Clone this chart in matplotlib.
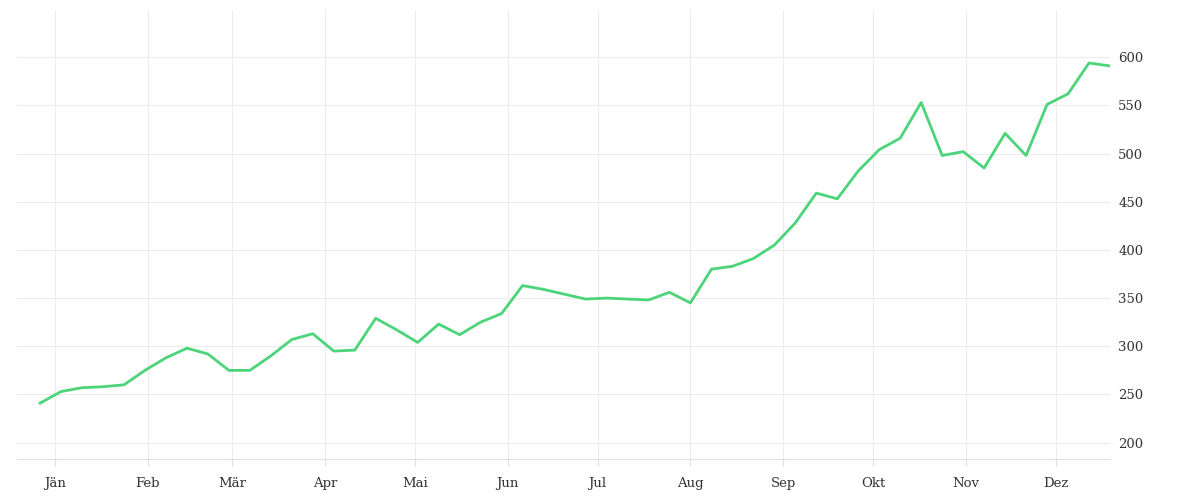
import numpy as np
import matplotlib.pyplot as plt

# weekly values, first point 5 days before Jan 1
start_day = -5
values = [241, 253, 257, 258, 260, 275, 288, 298, 292, 275, 275, 290, 307, 313, 295, 296,
          329, 317, 304, 323, 312, 325, 334, 363, 359, 354, 349, 350, 349, 348, 356, 345,
          380, 383, 391, 405, 428, 459, 453, 482, 504, 516, 553, 498, 502, 485, 521, 498,
          551, 562, 594, 591]
month_labels = ["Jän", "Feb", "Mär", "Apr", "Mai", "Jun", "Jul", "Aug", "Sep", "Okt", "Nov", "Dez"]
month_days = [31, 28, 31, 30, 31, 30, 31, 31, 30, 31, 30, 31]
y_ticks = [200, 250, 300, 350, 400, 450, 500, 550, 600]

days = [start_day + 7 * i for i in range(len(values))]
month_starts = np.concatenate([[0], np.cumsum(month_days)[:-1]])

fig = plt.figure(figsize=(12, 5), dpi=100)
ax = fig.add_axes([17 / 1200, 41 / 500, (1110 - 17) / 1200, 449 / 500])
ax.plot(days, values, color="#4cd47a", lw=2)

ax.set_xlim(start_day - 7.7, days[-1])
ax.set_ylim(183, 649)
ax.set_xticks(month_starts)
ax.set_xticklabels(month_labels)
ax.set_yticks(y_ticks)
ax.yaxis.tick_right()
ax.grid(True, color="#ececec", lw=0.8)
for s in ["top", "left", "right"]:
    ax.spines[s].set_visible(False)
ax.spines["bottom"].set_color("#e0e0e0")
ax.tick_params(axis="y", length=0, pad=6, labelsize=9.5, labelcolor="#333333")
ax.tick_params(axis="x", length=5, color="#e0e0e0", pad=8, labelsize=9.5, labelcolor="#333333")
for lab in ax.get_xticklabels() + ax.get_yticklabels():
    lab.set_family("DejaVu Serif")

fig.savefig("out.png", dpi=100)
